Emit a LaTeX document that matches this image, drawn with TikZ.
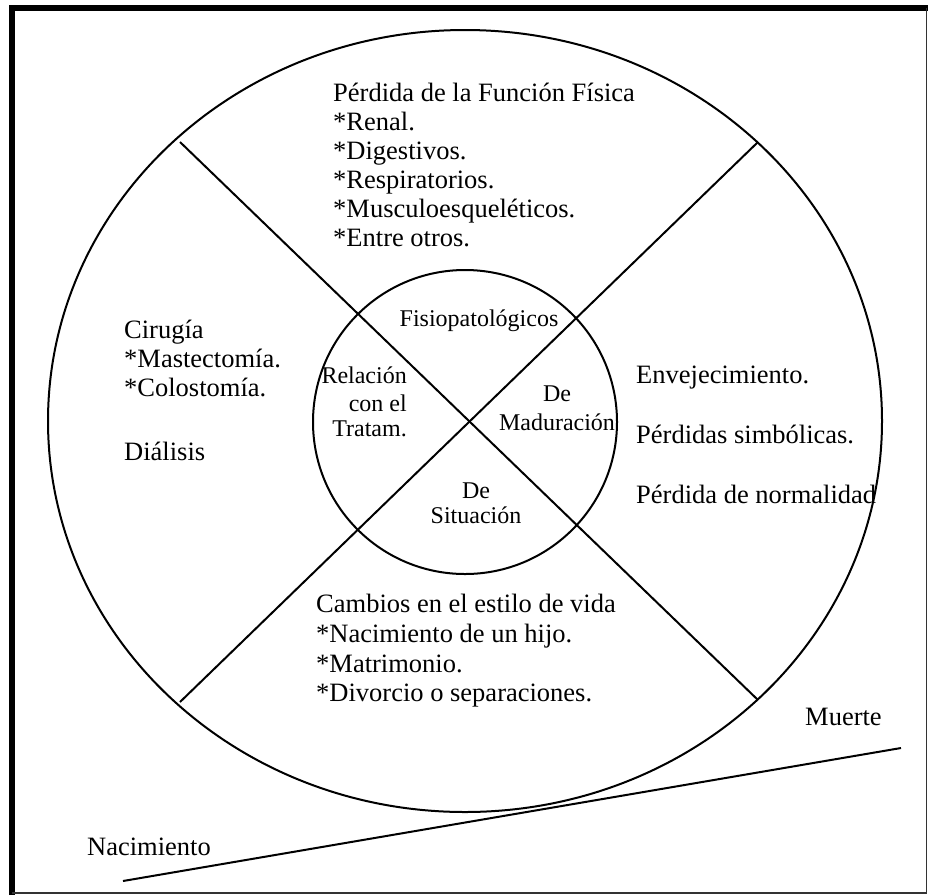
\documentclass[tikz,border=0pt]{standalone}
\usepackage{fontspec}
\setmainfont{Liberation Serif}
\begin{document}
\begin{tikzpicture}[x=1pt,y=-1pt,
  big/.style={anchor=base west,inner sep=0pt,font=\fontsize{26.5}{29}\selectfont},
  small/.style={inner sep=0pt,font=\fontsize{24}{26}\selectfont},
  ln/.style={line width=2pt,black}]
\useasboundingbox (0,0) rectangle (928,895);
% frame
\draw[line width=6pt] (11.5,895) -- (11.5,8) -- (928,8);
\draw[line width=1.5pt,black!80] (11.5,893) -- (926.5,893) -- (926.5,8);
% circles
\coordinate (c) at (465,421);
\draw[ln] (c) ellipse [x radius=417pt, y radius=391pt];
\coordinate (ci) at (465,422);
\draw[ln] (ci) circle [radius=152pt];
% diagonals
\coordinate (d1a) at (180,142);
\coordinate (d1b) at (758,700);
\coordinate (d2a) at (758,142);
\coordinate (d2b) at (180,702);
\draw[ln] (d1a) -- (d1b);
\draw[ln] (d2a) -- (d2b);
% timeline
\coordinate (t1) at (123,881);
\coordinate (t2) at (901,748);
\draw[ln] (t1) -- (t2);
% top text
\node[big] (p1) at (333,101) {Pérdida de la Función Física};
\node[big] (p2) at (333,130) {*Renal.};
\node[big] (p3) at (333,159) {*Digestivos.};
\node[big] (p4) at (333,188) {*Respiratorios.};
\node[big] (p5) at (333,217) {*Musculoesqueléticos.};
\node[big] (p6) at (333,246) {*Entre otros.};
% left text
\node[big] (l1) at (124,338) {Cirugía};
\node[big] (l2) at (124,367) {*Mastectomía.};
\node[big] (l3) at (124,396) {*Colostomía.};
\node[big] (l4) at (124,460) {Diálisis};
% right text
\node[big] (r1) at (636,383) {Envejecimiento.};
\node[big] (r2) at (636,443) {Pérdidas simbólicas.};
\node[big] (r3) at (636,503) {Pérdida de normalidad};
% bottom text
\node[big] (b1) at (316,612) {Cambios en el estilo de vida};
\node[big] (b2) at (316,642) {*Nacimiento de un hijo.};
\node[big] (b3) at (316,672) {*Matrimonio.};
\node[big] (b4) at (316,701) {*Divorcio o separaciones.};
% timeline labels
\node[big] (m) at (805,725) {Muerte};
\node[big] (n) at (87,855) {Nacimiento};
% inner labels
\node[small,anchor=base] (i1) at (479,326) {Fisiopatológicos};
\node[small,anchor=base east] (i2) at (407,383) {Relación};
\node[small,anchor=base east] (i3) at (407,411) {con el};
\node[small,anchor=base east] (i4) at (407,436) {Tratam.};
\node[small,anchor=base] (i5) at (557,401) {De};
\node[small,anchor=base] (i6) at (557,430) {Maduración};
\node[small,anchor=base] (i7) at (476,498) {De};
\node[small,anchor=base] (i8) at (476,523) {Situación};
\end{tikzpicture}
\end{document}
